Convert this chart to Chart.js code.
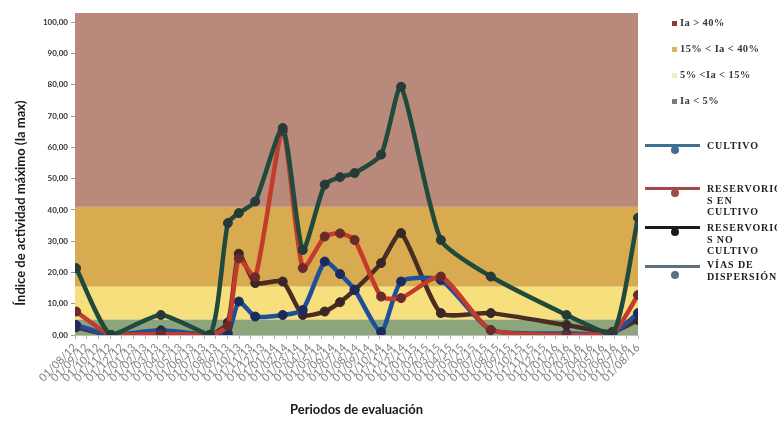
<!DOCTYPE html>
<html><head><meta charset="utf-8">
<script src="https://cdn.jsdelivr.net/npm/chart.js@4.4.1/dist/chart.umd.min.js"></script>
<style>
html,body{margin:0;padding:0;background:#fff;}
#wrap{position:relative;width:777px;height:421px;overflow:hidden;}
canvas{position:absolute;left:0;top:0;}
.lg{position:absolute;font-family:"Liberation Serif","DejaVu Serif",serif;font-weight:bold;white-space:pre;}
.band{font-size:10.5px;color:#3a3a3a;line-height:12px;letter-spacing:0.4px;}
.sq{position:absolute;width:5px;height:5px;}
.ln{font-size:10px;color:#222;line-height:11.5px;letter-spacing:0.9px;}
.bar{position:absolute;height:3px;width:55px;}
.dot{position:absolute;width:8px;height:8px;border-radius:50%;}
</style></head><body>
<div id="wrap"><canvas id="c" width="777" height="421"></canvas><div id="legend"></div></div>
<script>
// ---- data ----
const monthLabels = [
 "01/08/12","01/09/12","01/10/12","01/11/12","01/12/12",
 "01/01/13","01/02/13","01/03/13","01/04/13","01/05/13","01/06/13","01/07/13","01/08/13","01/09/13","01/10/13","01/11/13","01/12/13",
 "01/01/14","01/02/14","01/03/14","01/04/14","01/05/14","01/06/14","01/07/14","01/08/14","01/09/14","01/10/14","01/11/14","01/12/14",
 "01/01/15","01/02/15","01/03/15","01/04/15","01/05/15","01/06/15","01/07/15","01/08/15","01/09/15","01/10/15","01/11/15","01/12/15",
 "01/01/16","01/02/16","01/03/16","01/04/16","01/05/16","01/06/16","01/07/16","01/08/16"];
const sampleDates = ["2012-08-04","2012-11-03","2013-03-11","2013-07-16","2013-09-02","2013-09-30","2013-11-12",
 "2014-01-23","2014-03-14","2014-05-10","2014-06-19","2014-07-27","2014-10-04","2014-11-25","2015-03-07",
 "2015-07-15","2016-01-29","2016-05-26","2016-08-01"];
const cultivo        = [3.2, 0, 1.5, 0, 0.5, 10.7, 5.9, 6.4, 8, 23.5, 19.5, 14.5, 1, 17.1, 17.6, 1.6, 0.5, 0.5, 7];
const resEnCultivo   = [7.5, 0, 0.3, 0, 3, 24.5, 18.5, 65.2, 21.4, 31.5, 32.5, 30.4, 12.3, 11.8, 18.7, 1.6, 0, 0.5, 12.8];
const resNoCultivo   = [2.5, 0, 1, 0, 4, 26, 16.6, 17.1, 6.4, 7.5, 10.5, 14.4, 23, 32.6, 7, 7, 3.2, 1, 4.8];
const viasDispersion = [21.4, 0, 6.4, 0, 35.8, 39, 42.7, 66.2, 27.2, 48.1, 50.5, 51.8, 57.7, 79.4, 30.4, 18.7, 6.4, 0, 37.5];
const bandLimits = [0, 5, 15.5, 41, 103];
const bandNames = ["Ia < 5%", "5% <Ia < 15%", "15% < Ia < 40%", "Ia > 40%"];
const seriesNames = ["CULTIVO", "RESERVORIOS EN CULTIVO", "RESERVORIOS NO CULTIVO", "VÍAS DE DISPERSIÓN"];
const yTitle = "Índice de actividad máximo (Ia max)";
const xTitle = "Periodos de evaluación";

// ---- styles ----
const bandColors = ["#8ca57a", "#f6df7c", "#d8ab50", "#b98a7b"];
const bandLegendColors = ["#6f7f7f", "#f3efb5", "#dcb45a", "#8b3b3b"];
const lineColors = ["#1e4f9c", "#c43a2c", "#4a2c22", "#1f4a3c"];
const markColors = ["#1b2c5c", "#6a2a2a", "#3a2626", "#263a38"];
const legendLineColors = ["#3f6f93", "#a34a48", "#1a1a1a", "#5b7080"];

function monthPos(d){
  const [y,m,day] = d.split("-").map(Number);
  const dim = new Date(y, m, 0).getDate();
  return (y-2012)*12 + (m-8) + (day-1)/dim;
}
function pts(vals){ return vals.map((v,i)=>({x: monthPos(sampleDates[i]), y: v})); }

const seriesVals = [cultivo, resEnCultivo, resNoCultivo, viasDispersion];
const orders = [2, 1, 3, 0];
const datasets = seriesVals.map((vals,i)=>({
  label: seriesNames[i], data: pts(vals),
  borderColor: lineColors[i], borderWidth: 4.5,
  pointRadius: 4.5, pointBackgroundColor: markColors[i], pointBorderColor: markColors[i], pointBorderWidth: 1,
  tension: 0.2, order: orders[i], fill: false
}));

const bandPlugin = {id:'bands', beforeDatasetsDraw(chart){
  const {ctx, chartArea:a, scales:{y}} = chart;
  ctx.save();
  for (let i=0;i<bandColors.length;i++){
    const t = y.getPixelForValue(bandLimits[i+1]), b = y.getPixelForValue(bandLimits[i]);
    ctx.fillStyle = bandColors[i];
    ctx.fillRect(a.left, t, a.right-a.left, b-t);
  }
  ctx.restore();
}};
const yTitlePlugin = {id:'ytitle', afterDraw(chart){
  const ctx = chart.ctx;
  ctx.save();
  ctx.translate(21, 203);
  ctx.rotate(-Math.PI/2);
  ctx.font = 'bold 13px Lato, "Open Sans", sans-serif';
  ctx.fillStyle = '#1a1a1a';
  ctx.textAlign = 'center'; ctx.textBaseline = 'middle';
  ctx.fillText(yTitle, 0, 0);
  ctx.restore();
}};

Chart.defaults.font.family = 'Lato, "Open Sans", sans-serif';
new Chart(document.getElementById('c'), {
  type: 'line',
  data: { datasets },
  plugins: [bandPlugin, yTitlePlugin],
  options: {
    responsive: false, animation: false,
    layout: { padding: { left: 0, right: 139, top: 13, bottom: 0 } },
    plugins: { legend: { display: false }, tooltip: { enabled: false } },
    scales: {
      x: {
        type: 'linear', min: 0, max: 48,
        afterFit(s){ s.height = 86; },
        ticks: { stepSize: 1, autoSkip: false, minRotation: 45, maxRotation: 45, padding: 2,
          color: '#808080', font: { size: 11 },
          callback: v => monthLabels[v] },
        grid: { drawOnChartArea: false, tickLength: 4, color: '#b0b0b0' },
        border: { color: '#c0c0c0' },
        title: { display: true, text: xTitle, color: '#1a1a1a', font: { size: 13, weight: 'bold' }, padding: { top: 0, bottom: 3 } }
      },
      y: {
        min: 0, max: 103,
        afterFit(s){ s.width = 75; },
        ticks: { stepSize: 10, includeBounds: false, color: '#333', font: { size: 8, weight: 'bold' }, padding: 3,
          callback: v => v.toFixed(2).replace('.', ',') },
        grid: { drawOnChartArea: false, tickLength: 4, color: '#999' },
        border: { color: '#c8c8c8' }
      }
    }
  }
});

// ---- legend (HTML text) ----
const lg = document.getElementById('legend');
function el(cls, style, text){
  const d = document.createElement('div');
  d.className = cls;
  Object.assign(d.style, style);
  if (text !== undefined) d.textContent = text;
  lg.appendChild(d);
}
const bandY = [101, 75, 49, 23];
for (let i=3;i>=0;i--){
  el('sq', {left:'672px', top:(bandY[i]-2.5)+'px', background:bandLegendColors[i]});
  el('lg band', {left:'680px', top:(bandY[i]-6)+'px'}, bandNames[i]);
}
const lineY = [145, 188, 227, 266];
const dotY = [150, 193, 232, 275];
const textLines = [["CULTIVO"], ["RESERVORIO","S EN","CULTIVO"], ["RESERVORIO","S NO","CULTIVO"], ["VÍAS DE","DISPERSIÓN"]];
const textTop = [140, 183, 222, 259];
for (let i=0;i<4;i++){
  el('bar', {left:'645px', top:(lineY[i]-1.5)+'px', background:legendLineColors[i]});
  el('dot', {left:'671px', top:(dotY[i]-4)+'px', background:legendLineColors[i]});
  el('lg ln', {left:'707px', top:textTop[i]+'px'}, textLines[i].join('\n'));
}
</script>
</body></html>
